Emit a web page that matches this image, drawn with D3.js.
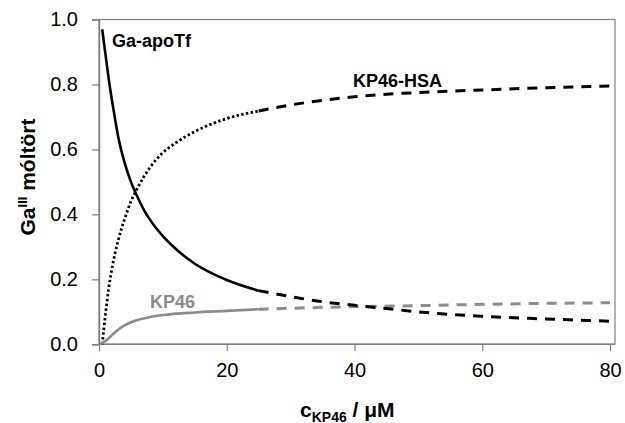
<!DOCTYPE html>
<html>
<head>
<meta charset="utf-8">
<script src="https://cdn.jsdelivr.net/npm/d3@7"></script>
<style>
  body { margin: 0; background: #fff; }
  svg { display: block; font-family: "Liberation Sans", Arial, sans-serif; }
</style>
</head>
<body>
<svg id="chart" width="625" height="423"></svg>
<script>
// ---- data ----
const xTicks = [0, 20, 40, 60, 80];
const yTicks = [0.0, 0.2, 0.4, 0.6, 0.8, 1.0];
const splitX = 25;

const gaApoTfX = [0.5, 1, 1.5, 2, 2.5, 3, 4, 5, 6, 7, 8, 10, 12, 15, 20, 25, 30, 35, 40, 45, 50, 60, 70, 80];
const gaApoTfY = [0.97, 0.895, 0.82, 0.755, 0.695, 0.64, 0.56, 0.50, 0.455, 0.415, 0.383, 0.333, 0.294, 0.248, 0.198, 0.165, 0.147, 0.131, 0.12, 0.11, 0.10, 0.086, 0.078, 0.071];

const hsaX = [0.5, 1, 1.5, 2, 3, 4, 5, 6, 7, 8, 10, 12, 15, 20, 25, 30, 35, 40, 45, 50, 60, 70, 80];
const hsaY = [0.0, 0.09, 0.17, 0.23, 0.32, 0.385, 0.44, 0.48, 0.515, 0.545, 0.59, 0.62, 0.655, 0.695, 0.718, 0.737, 0.751, 0.762, 0.77, 0.775, 0.783, 0.790, 0.795];

const kp46X = [0, 1, 2, 3, 4, 5, 6, 8, 10, 15, 20, 25, 30, 40, 50, 60, 70, 80];
const kp46Y = [0, 0.01, 0.028, 0.045, 0.058, 0.068, 0.075, 0.084, 0.09, 0.098, 0.103, 0.108, 0.111, 0.116, 0.119, 0.123, 0.126, 0.128];

// ---- layout ----
const svg = d3.select("#chart");
const x = d3.scaleLinear().domain([0, 80]).range([99, 610]);
const y = d3.scaleLinear().domain([0, 1]).range([344.3, 19.5]);
const frameRight = 615;
const axisColor = "#7f7f7f";
const grayCol = "#8c8c8c";

// frame (top/right)
svg.append("rect")
  .attr("x", x(0)).attr("y", y(1))
  .attr("width", frameRight - x(0)).attr("height", y(0) - y(1))
  .attr("fill", "none").attr("stroke", axisColor).attr("stroke-width", 1.2);

// y axis
const yAxis = d3.axisLeft(y).tickValues(yTicks).tickFormat(d3.format(".1f")).tickSize(7).tickPadding(14);
const gy = svg.append("g").attr("transform", `translate(${x(0)},0)`).call(yAxis);
gy.select(".domain").attr("stroke", axisColor).attr("stroke-width", 1.4);
gy.selectAll(".tick line").attr("stroke", axisColor).attr("stroke-width", 1.2);
gy.selectAll(".tick text").attr("font-size", 20).attr("fill", "#000")
  .attr("font-family", "Liberation Sans, Arial, sans-serif");

// x axis
const xAxis = d3.axisBottom(x).tickValues(xTicks).tickSize(7).tickPadding(12);
const gx = svg.append("g").attr("transform", `translate(0,${y(0)})`).call(xAxis);
gx.select(".domain").remove();
gx.append("line").attr("x1", x(0)).attr("x2", frameRight).attr("y1", 0).attr("y2", 0)
  .attr("stroke", axisColor).attr("stroke-width", 1.4);
gx.selectAll(".tick line").attr("stroke", axisColor).attr("stroke-width", 1.2);
gx.selectAll(".tick text").attr("font-size", 20).attr("fill", "#000")
  .attr("font-family", "Liberation Sans, Arial, sans-serif");

// ---- curves ----
const line = d3.line().x(d => x(d[0])).y(d => y(d[1])).curve(d3.curveMonotoneX);
function pts(xs, ys) { return xs.map((v, i) => [v, ys[i]]); }
function drawSeries(xs, ys, color, firstDash, width) {
  const p = pts(xs, ys);
  const first = p.filter(d => d[0] <= splitX);
  const second = p.filter(d => d[0] >= splitX);
  svg.append("path").attr("d", line(first)).attr("fill", "none")
    .attr("stroke", color).attr("stroke-width", width)
    .attr("stroke-dasharray", firstDash);
  svg.append("path").attr("d", line(second)).attr("fill", "none")
    .attr("stroke", color).attr("stroke-width", 3)
    .attr("stroke-dasharray", "10,8");
}
drawSeries(hsaX, hsaY, "#000", "2.4,2.4", 2.8);
drawSeries(kp46X, kp46Y, grayCol, null, 2.6);
drawSeries(gaApoTfX, gaApoTfY, "#000", null, 2.6);

// ---- labels ----
const bold = sel => sel.attr("font-weight", "bold").attr("font-family", "Liberation Sans, Arial, sans-serif");
svg.append("text").attr("x", 112).attr("y", 46.5).attr("font-size", 18).attr("fill", "#000").text("Ga-apoTf").call(bold);
svg.append("text").attr("x", 353).attr("y", 86.7).attr("font-size", 18).attr("fill", "#000").text("KP46-HSA").call(bold);
svg.append("text").attr("x", 150).attr("y", 308.3).attr("font-size", 18).attr("fill", grayCol).text("KP46").call(bold);

// y title
const yt = svg.append("text").attr("transform", "translate(35,177) rotate(-90)")
  .attr("text-anchor", "middle").attr("font-size", 21).attr("fill", "#000").call(bold);
yt.append("tspan").text("Ga");
yt.append("tspan").attr("font-size", 13).attr("dy", -8).text("III");
yt.append("tspan").attr("dy", 8).text(" móltört");

// x title
const xt = svg.append("text").attr("x", 300).attr("y", 416.5).attr("font-size", 21).attr("fill", "#000").call(bold);
xt.append("tspan").text("c");
xt.append("tspan").attr("font-size", 14).attr("dy", 5).text("KP46");
xt.append("tspan").attr("dy", -5).text(" / μM");
</script>
</body>
</html>
